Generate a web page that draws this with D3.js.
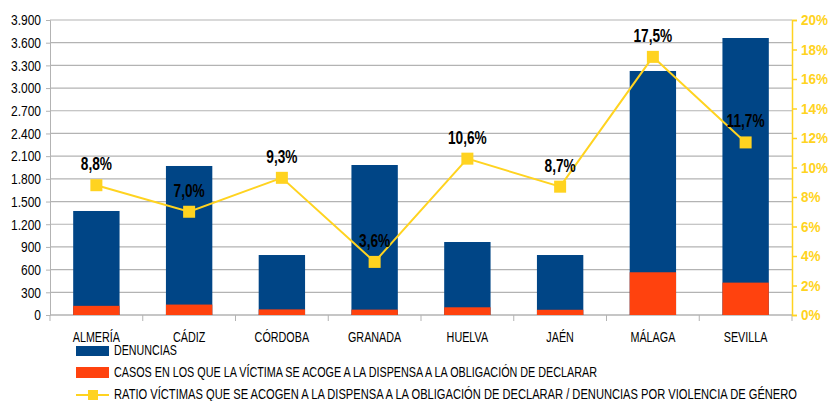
<!DOCTYPE html>
<html>
<head>
<meta charset="utf-8">
<script src="https://cdn.jsdelivr.net/npm/d3@7"></script>
<style>
  body { margin: 0; background: #fff; }
  svg { display: block; font-family: "Liberation Sans", Arial, sans-serif; }
</style>
</head>
<body>
<svg id="chart"></svg>
<script>
const provincias = ['ALMERÍA', 'CÁDIZ', 'CÓRDOBA', 'GRANADA', 'HUELVA', 'JAÉN', 'MÁLAGA', 'SEVILLA'];
const denuncias = [1375, 1970, 793, 1983, 965, 793, 3226, 3662];
const casosDispensa = [121, 138, 74, 71, 102, 69, 565, 428];
const ratio = [8.8, 7.0, 9.3, 3.6, 10.6, 8.7, 17.5, 11.7];
const leftTicks = d3.range(0, 3901, 300);
const rightTicks = d3.range(0, 21, 2);

const BLUE = '#004586';
const ORANGE = '#ff420e';
const YELLOW = '#ffd320';
const GRID = '#b3b3b3';

const width = 832;
const height = 401;
const margin = { top: 20, right: 40, bottom: 86, left: 50 };
const innerWidth = width - margin.left - margin.right;
const innerHeight = height - margin.top - margin.bottom;

// no narrow font installed: squeeze text horizontally
function condense(sel, f) {
  sel.each(function () {
    const w = this.getComputedTextLength();
    d3.select(this).attr('textLength', w * f).attr('lengthAdjust', 'spacingAndGlyphs');
  });
}

const svg = d3.select('#chart').attr('width', width).attr('height', height);
const g = svg.append('g').attr('transform', `translate(${margin.left}, ${margin.top})`);

const x = d3.scaleBand().domain(provincias).range([0, innerWidth]).paddingInner(0.5).paddingOuter(0.25);
const band = d3.scaleBand().domain(provincias).range([0, innerWidth]);
const y = d3.scaleLinear().domain([0, 3900]).range([innerHeight, 0]);
const y2 = d3.scaleLinear().domain([0, 20]).range([innerHeight, 0]);

const fmt = d3.formatLocale({ decimal: ',', thousands: '.', grouping: [3], currency: ['', '€'] });

// grid lines
g.append('g')
  .selectAll('line')
  .data(leftTicks)
  .enter().append('line')
    .attr('x1', 0).attr('x2', innerWidth)
    .attr('y1', d => y(d)).attr('y2', d => y(d))
    .attr('stroke', GRID).attr('stroke-width', 1.2);

// left axis
const yAxis = g.append('g')
  .call(d3.axisLeft(y).tickValues(leftTicks).tickSize(4).tickPadding(5).tickFormat(fmt.format(',d')));
yAxis.selectAll('path, line').attr('stroke', GRID);
yAxis.selectAll('text').attr('font-size', 15).attr('fill', '#000').attr('font-family', 'inherit');
condense(yAxis.selectAll('text'), 0.8);

// bottom axis with ticks at band boundaries
g.append('line')
  .attr('x1', 0).attr('x2', innerWidth)
  .attr('y1', innerHeight).attr('y2', innerHeight)
  .attr('stroke', GRID).attr('stroke-width', 1.2);
g.append('g')
  .selectAll('line')
  .data(provincias.concat(['end']))
  .enter().append('line')
    .attr('x1', (d, i) => i * band.step()).attr('x2', (d, i) => i * band.step())
    .attr('y1', innerHeight).attr('y2', innerHeight + 6)
    .attr('stroke', GRID);
const catLabels = g.append('g')
  .selectAll('text')
  .data(provincias)
  .enter().append('text')
    .attr('x', d => band(d) + band.bandwidth() / 2)
    .attr('y', innerHeight + 27)
    .attr('text-anchor', 'middle')
    .attr('font-size', 14)
    .text(d => d);
condense(catLabels, 0.77);

// bars
g.selectAll('.bar-den')
  .data(provincias)
  .enter().append('rect')
    .attr('x', d => x(d))
    .attr('y', (d, i) => y(denuncias[i]))
    .attr('width', x.bandwidth())
    .attr('height', (d, i) => innerHeight - y(denuncias[i]))
    .attr('fill', BLUE);
g.selectAll('.bar-casos')
  .data(provincias)
  .enter().append('rect')
    .attr('x', d => x(d))
    .attr('y', (d, i) => y(casosDispensa[i]))
    .attr('width', x.bandwidth())
    .attr('height', (d, i) => innerHeight - y(casosDispensa[i]))
    .attr('fill', ORANGE);

// right axis
const yAxis2 = g.append('g')
  .attr('transform', `translate(${innerWidth}, 0)`)
  .call(d3.axisRight(y2).tickValues(rightTicks).tickSize(5).tickPadding(4).tickFormat(d => d + '%'));
yAxis2.selectAll('path, line').attr('stroke', YELLOW).attr('stroke-width', 1.5);
yAxis2.selectAll('text')
  .attr('font-size', 15).attr('font-weight', 'bold')
  .attr('fill', YELLOW).attr('font-family', 'inherit');
condense(yAxis2.selectAll('text'), 0.9);

// ratio line
const cx = d => band(d) + band.bandwidth() / 2;
const line = d3.line()
  .x(d => cx(d))
  .y((d, i) => y2(ratio[i]));
g.append('path')
  .datum(provincias)
  .attr('d', line)
  .attr('fill', 'none')
  .attr('stroke', YELLOW)
  .attr('stroke-width', 2);
g.selectAll('.marker')
  .data(provincias)
  .enter().append('rect')
    .attr('x', d => cx(d) - 6)
    .attr('y', (d, i) => y2(ratio[i]) - 6)
    .attr('width', 12).attr('height', 12)
    .attr('fill', YELLOW);
const dataLabels = g.selectAll('.label')
  .data(provincias)
  .enter().append('text')
    .attr('x', d => cx(d))
    .attr('y', (d, i) => y2(ratio[i]) - 15)
    .attr('text-anchor', 'middle')
    .attr('font-size', 19)
    .attr('font-weight', 'bold')
    .attr('fill', '#000')
    .text((d, i) => fmt.format('.1f')(ratio[i]) + '%');
condense(dataLabels, 0.72);

// legend
const legend = svg.append('g').attr('transform', 'translate(76, 0)');
legend.append('rect').attr('x', 0).attr('y', 346).attr('width', 33).attr('height', 10).attr('fill', BLUE);
legend.append('text').attr('x', 38).attr('y', 355).attr('font-size', 14)
  .attr('textLength', 63).attr('lengthAdjust', 'spacingAndGlyphs')
  .text('DENUNCIAS');
legend.append('rect').attr('x', 0).attr('y', 367).attr('width', 33).attr('height', 11).attr('fill', ORANGE);
legend.append('text').attr('x', 38).attr('y', 377).attr('font-size', 14)
  .attr('textLength', 483).attr('lengthAdjust', 'spacingAndGlyphs')
  .text('CASOS EN LOS QUE LA VÍCTIMA SE ACOGE A LA DISPENSA A LA OBLIGACIÓN DE DECLARAR');
legend.append('line').attr('x1', 0).attr('x2', 33).attr('y1', 395).attr('y2', 395)
  .attr('stroke', YELLOW).attr('stroke-width', 2);
legend.append('rect').attr('x', 12).attr('y', 390).attr('width', 10).attr('height', 10).attr('fill', YELLOW);
legend.append('text').attr('x', 38).attr('y', 399).attr('font-size', 14)
  .attr('textLength', 683).attr('lengthAdjust', 'spacingAndGlyphs')
  .text('RATIO VÍCTIMAS QUE SE ACOGEN A LA DISPENSA A LA OBLIGACIÓN DE DECLARAR / DENUNCIAS POR VIOLENCIA DE GÉNERO');
</script>
</body>
</html>
